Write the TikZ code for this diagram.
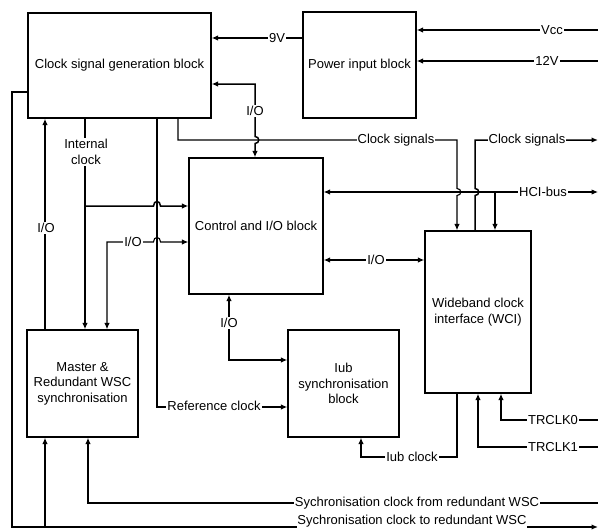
\documentclass[tikz,border=0pt]{standalone}
\usepackage{fontspec}
\setmainfont{Liberation Sans}
\usetikzlibrary{arrows.meta,calc}
\begin{document}
\begin{tikzpicture}[x=1pt,y=-1pt,
  >={Latex[length=6.5pt,width=5.5pt]},
  blk/.style={draw,line width=1.3pt,inner sep=0pt,align=center,font=\fontsize{13}{15.5}\selectfont},
  ln/.style={line width=1.5pt},
  thn/.style={line width=1.1pt},
  lbl/.style={fill=white,inner sep=1pt,font=\fontsize{13}{15.5}\selectfont}
]
\useasboundingbox (0,0) rectangle (598,530);
\fill[white] (0,0) rectangle (598,530);

% blocks
\node[blk,minimum width=183pt,minimum height=105pt] (csg) at (119.5,65.5) {Clock signal generation block};
\node[blk,minimum width=113pt,minimum height=106pt] (pwr) at (359.5,65) {Power input block};
\node[blk,minimum width=134pt,minimum height=136pt] (ctl) at (256,226) {Control and I/O block};
\node[blk,minimum width=106pt,minimum height=162pt] (wci) at (478,312) {Wideband clock\\interface (WCI)};
\node[blk,minimum width=111pt,minimum height=107pt] (mst) at (82.5,383.5) {Master \&\\Redundant WSC\\synchronisation};
\node[blk,minimum width=111pt,minimum height=107pt] (iub) at (343.5,383.5) {Iub\\synchronisation\\block};

% free ends
\coordinate (vccR) at (598,30);
\coordinate (v12R) at (598,61);
\coordinate (csoR) at (598,140);
\coordinate (hciR) at (598,192);
\coordinate (tr0R) at (598,420);
\coordinate (tr1R) at (598,447);
\coordinate (sfrR) at (598,503);
\coordinate (stoR) at (598,527);
\coordinate (hcib) at (495,192);
\coordinate (icb) at (85,206);
\coordinate (stb) at (45,527);

% power
\draw[ln,->] (vccR) -- (pwr.east |- vccR);
\draw[ln,->] (v12R) -- (pwr.east |- v12R);
\draw[ln,->] (pwr.west |- 0,38) -- (csg.east |- 0,38);

% I/O clock gen <-> control
\draw[ln,<->] (csg.east |- 0,84) -- (255,84) -- (255,136.5)
  .. controls (260,136.5) and (260,143.5) .. (255,143.5) -- (ctl.north -| 255,0);

% clock signals to WCI
\draw[thn,->] (csg.south -| 178,0) -- (178,140) -- (457,140) -- (457,188.5)
  .. controls (462,188.5) and (462,195.5) .. (457,195.5) -- (wci.north -| 457,0);

% clock signals out of WCI
\draw[ln,->] (wci.north -| 475,0) -- (475,195.5)
  .. controls (480,195.5) and (480,188.5) .. (475,188.5) -- (475,140) -- (csoR);

% HCI bus
\draw[thn,<->] (ctl.east |- hciR) -- (hciR);
\draw[ln,->] (hcib) -- (wci.north -| hcib);

% I/O control <-> WCI
\draw[ln,<->] (ctl.east |- 0,260) -- (wci.west |- 0,260);

% internal clock
\draw[ln,->] (csg.south -| 85,0) -- (mst.north -| 85,0);
\draw[ln,->] (icb) -- (153.5,206) .. controls (153.5,200) and (160.5,200) .. (160.5,206) -- (ctl.west |- icb);

% I/O master -> clock gen
\draw[ln,->] (mst.north -| 45,0) -- (csg.south -| 45,0);

% I/O master <-> control
\draw[thn,<->] (mst.north -| 107,0) -- (107,242) -- (153.5,242)
  .. controls (153.5,236) and (160.5,236) .. (160.5,242) -- (ctl.west |- 0,242);

% reference clock
\draw[ln,->] (csg.south -| 157,0) -- (157,407) -- (iub.west |- 0,407);

% I/O control <-> Iub
\draw[ln,<->] (ctl.south -| 229,0) -- (229,360) -- (iub.west |- 0,360);

% Iub clock
\draw[ln,->] (wci.south -| 457,0) -- (457,457) -- (361,457) -- (iub.south -| 361,0);

% TRCLK
\draw[ln,->] (tr0R) -- (501,420) -- (wci.south -| 501,0);
\draw[ln,->] (tr1R) -- (478,447) -- (wci.south -| 478,0);

% synchronisation clocks
\draw[ln,->] (sfrR) -- (88,503) -- (mst.south -| 88,0);
\draw[ln,->] (csg.west |- 0,92) -- (12,92) -- (12,527) -- (stoR);
\draw[ln,->] (stb) -- (mst.south -| stb);

% labels
\node[lbl] (l9v) at (277,38) {9V};
\node[lbl] (lvcc) at (552,30) {Vcc};
\node[lbl] (l12v) at (547,61) {12V};
\node[lbl] (lio1) at (255,111) {I/O};
\node[lbl] (lcs1) at (396,140) {Clock signals};
\node[lbl] (lcs2) at (527,140) {Clock signals};
\node[lbl] (lhci) at (543,192) {HCI-bus};
\node[lbl] (lio2) at (376,260) {I/O};
\node[lbl] (lint) [align=center] at (86,152) {Internal\\clock};
\node[lbl] (lio3) at (46,228) {I/O};
\node[lbl] (lio4) at (133,242) {I/O};
\node[lbl] (lref) at (214,406) {Reference clock};
\node[lbl] (lio5) at (229,323) {I/O};
\node[lbl] (liub) at (412,457) {Iub clock};
\node[lbl] (ltr0) at (553,420) {TRCLK0};
\node[lbl] (ltr1) at (553,447) {TRCLK1};
\node[lbl] (lsfr) at (417,503) {Sychronisation clock from redundant WSC};
\node[lbl,inner sep=0.5pt] (lsto) at (412,521.5) {Sychronisation clock to redundant WSC};
\end{tikzpicture}
\end{document}
